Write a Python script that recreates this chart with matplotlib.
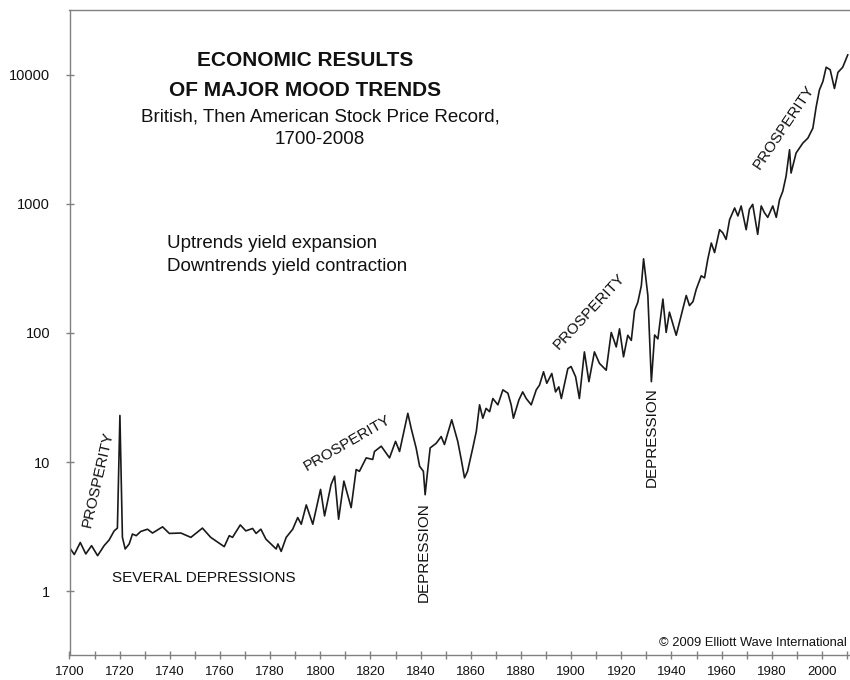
import matplotlib
matplotlib.use('Agg')
import matplotlib.pyplot as plt
from matplotlib.ticker import FixedLocator, NullLocator, FixedFormatter

plt.rcParams['font.family'] = ['Liberation Sans', 'DejaVu Sans']

# stock index, British record to the 1790s then American
years = [1700, 1701.9, 1704.3, 1706.5, 1708.8, 1711.2, 1713.8, 1715.8, 1717.8, 1719.1,
         1720.1, 1721.1, 1722.2, 1723.8, 1725.1, 1726.6, 1728.4, 1731.1, 1733.1, 1737.1,
         1739.8, 1744.4, 1748.4, 1753.0, 1756.3, 1761.7, 1763.7, 1765.0, 1768.1, 1770.3,
         1773.0, 1774.4, 1776.3, 1778.3, 1782.4, 1783.1, 1784.4, 1786.4, 1789.0, 1791.0,
         1792.4, 1794.4, 1797.0, 1800.1, 1801.7, 1804.3, 1805.7, 1807.3, 1809.4, 1812.3,
         1814.3, 1815.6, 1818.3, 1820.9, 1821.6, 1824.3, 1827.6, 1830.0, 1831.6, 1834.9,
         1836.2, 1838.2, 1839.6, 1841.1, 1841.8, 1842.5, 1843.8, 1846.2, 1848.2, 1849.5,
         1852.4, 1854.8, 1856.2, 1857.5, 1858.7, 1860.8, 1862.2, 1863.5, 1864.8, 1866.1,
         1867.5, 1868.8, 1870.8, 1872.8, 1874.8, 1876.1, 1877.0, 1879.2, 1880.7, 1882.1,
         1884.1, 1886.1, 1887.4, 1889.0, 1890.3, 1892.3, 1893.8, 1895.1, 1896.1, 1898.7,
         1900.0, 1901.8, 1903.3, 1905.3, 1907.1, 1909.3, 1911.3, 1914.0, 1916.0, 1918.0,
         1919.3, 1920.9, 1922.6, 1924.0, 1925.3, 1926.6, 1928.0, 1928.9, 1930.6, 1932.0,
         1933.3, 1934.6, 1936.6, 1937.9, 1939.2, 1941.9, 1943.9, 1945.9, 1947.2, 1948.6,
         1949.9, 1951.9, 1953.2, 1954.5, 1955.9, 1957.2, 1959.2, 1960.5, 1961.8, 1963.2,
         1965.2, 1966.5, 1967.8, 1969.8, 1971.1, 1972.4, 1974.4, 1975.8, 1977.1, 1978.4,
         1980.4, 1981.8, 1983.1, 1984.4, 1985.7, 1987.1, 1987.7, 1989.7, 1992.4, 1994.4,
         1996.4, 1997.7, 1999.0, 2000.4, 2001.7, 2003.3, 2005.0, 2006.4, 2008.3, 2010.3]
prices = [2.19, 1.93, 2.39, 1.95, 2.26, 1.89, 2.26, 2.50, 2.94, 3.09,
          23.0, 2.62, 2.13, 2.33, 2.78, 2.70, 2.91, 3.03, 2.83, 3.16,
          2.81, 2.83, 2.62, 3.09, 2.62, 2.22, 2.70, 2.62, 3.27, 2.94,
          3.07, 2.81, 3.03, 2.54, 2.13, 2.33, 2.04, 2.62, 3.03, 3.73,
          3.31, 4.67, 3.31, 6.16, 3.84, 6.72, 7.8, 3.62, 7.14, 4.45,
          8.77, 8.5, 10.8, 10.5, 12.1, 13.3, 10.8, 14.5, 12.1, 23.9,
          18.4, 12.9, 9.3, 8.5, 5.6, 7.6, 12.9, 14.0, 15.8, 13.7,
          21.3, 14.5, 10.5, 7.57, 8.5, 12.9, 17.3, 27.8, 21.9, 26.1,
          24.6, 31.1, 27.8, 36.3, 34.2, 27.8, 21.9, 30.4, 35.0, 31.1,
          27.8, 36.3, 39.5, 50.1, 40.8, 48.6, 35.0, 38.3, 31.1, 53,
          55, 45.8, 31.1, 71.4, 42, 71.4, 58.2, 51.5, 101, 78,
          107.6, 65.4, 96, 87.6, 149, 173, 232, 375, 195, 42,
          96.5, 90, 183, 101, 145, 96, 137, 195, 163, 175,
          218, 277, 267, 373, 497, 419, 630, 595, 530, 754,
          928, 805, 962, 630, 906, 990, 580, 962, 852, 785,
          962, 785, 1075, 1250, 1630, 2620, 1730, 2470, 2950, 3220,
          3850, 5610, 7600, 8850, 11400, 10900, 7800, 10400, 11400, 14200]

y_ticks = [1, 10, 100, 1000, 10000]
y_labels = ['1', '10', '100', '1000', '10000']
x_ticks = list(range(1700, 2011, 10))
x_labels = [str(y) if y % 20 == 0 else '' for y in x_ticks]

fig = plt.figure(figsize=(8.5, 6.8), dpi=100)
ax = fig.add_axes([69.5 / 850, 25 / 680, 780.5 / 850, 645 / 680])

ax.plot(years, prices, color='#1a1a1a', lw=1.2, solid_joinstyle='round')

ax.set_yscale('log')
ax.set_xlim(1700, 2011.2)
ax.set_ylim(0.322, 31600)

ax.yaxis.set_major_locator(FixedLocator(y_ticks))
ax.yaxis.set_major_formatter(FixedFormatter(y_labels))
ax.yaxis.set_minor_locator(NullLocator())
ax.xaxis.set_major_locator(FixedLocator(x_ticks))
ax.xaxis.set_major_formatter(FixedFormatter(x_labels))

grey = '#808080'
for side in ['left', 'bottom', 'top']:
    ax.spines[side].set_color(grey)
    ax.spines[side].set_linewidth(1.0)
ax.spines['right'].set_visible(False)
ax.tick_params(axis='both', direction='inout', length=6, width=1.0, color=grey,
               labelcolor='#111111')
ax.tick_params(axis='y', labelsize=10.5, pad=11)
ax.tick_params(axis='x', labelsize=9.5, pad=5)

# labels on the chart
ann = dict(fontsize=11, color='#111111', ha='center', va='center',
           rotation_mode='anchor')
ax.text(1711.2, 7.4, 'PROSPERITY', rotation=77, **ann)
ax.text(1810.6, 14.0, 'PROSPERITY', rotation=30, **ann)
ax.text(1907.3, 148, 'PROSPERITY', rotation=47, **ann)
ax.text(1984.7, 3910, 'PROSPERITY', rotation=56, **ann)
ax.text(1841.1, 2.0, 'DEPRESSION', rotation=90, **ann)
ax.text(1932.1, 15.6, 'DEPRESSION', rotation=90, **ann)
ax.text(1753.4, 1.26, 'SEVERAL DEPRESSIONS', **ann)

fig.text(305 / 850, 1 - 61 / 680, 'ECONOMIC RESULTS', fontsize=15, fontweight='bold',
         ha='center', va='center', color='#111111')
fig.text(305 / 850, 1 - 90 / 680, 'OF MAJOR MOOD TRENDS', fontsize=15, fontweight='bold',
         ha='center', va='center', color='#111111')
fig.text(320 / 850, 1 - 117 / 680, 'British, Then American Stock Price Record,',
         fontsize=13.5, ha='center', va='center', color='#111111')
fig.text(320 / 850, 1 - 140 / 680, '1700-2008', fontsize=13.5, ha='center', va='center',
         color='#111111')

fig.text(167 / 850, 1 - 243 / 680, 'Uptrends yield expansion', fontsize=13.5,
         ha='left', va='center', color='#111111')
fig.text(167 / 850, 1 - 267 / 680, 'Downtrends yield contraction', fontsize=13.5,
         ha='left', va='center', color='#111111')

fig.text(847 / 850, 1 - 643 / 680, '\u00a9 2009 Elliott Wave International', fontsize=9.3,
         ha='right', va='center', color='#111111')

fig.savefig('out.png', dpi=100)
